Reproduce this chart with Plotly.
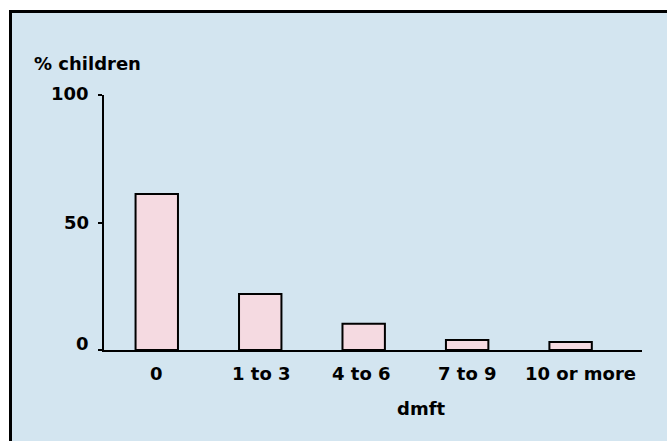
import plotly.graph_objects as go

categories = ["0", "1 to 3", "4 to 6", "7 to 9", "10 or more"]
values = [61.2, 22.0, 10.3, 3.9, 3.1]
y_ticks = [0, 50, 100]
y_tick_labels = ["0", "50", "100"]

W, H = 667, 441
L, R, T, B = 104, 25, 95, 91
pw, ph = W - L - R, H - T - B

def px(x):
    return (x - L) / pw

def py(y):
    return (H - B - y) / ph

FONT = "DejaVu Sans"
TF = dict(family=FONT, size=18, color="black", weight="bold")

fig = go.Figure()
fig.add_trace(go.Bar(
    x=list(range(len(categories))), y=values,
    width=0.41,
    marker=dict(color="#F5DAE1", line=dict(color="black", width=2)),
))

annotations = [
    dict(text="% children", xref="paper", yref="paper", x=px(32), y=py(63),
         xanchor="left", yanchor="middle", showarrow=False, font=TF),
    dict(text="dmft", xref="paper", yref="paper", x=px(421), y=py(408),
         xanchor="center", yanchor="middle", showarrow=False, font=TF),
]
# category labels (last one sits slightly right of its bar in the original)
x_shifts = [0, 1, -2, 0, 10]
for i, (c, s) in enumerate(zip(categories, x_shifts)):
    annotations.append(dict(text=c, xref="x", yref="paper", x=i, y=py(373),
                            xanchor="center", yanchor="middle", xshift=s,
                            showarrow=False, font=TF))
# value-axis labels
y_shifts = [7, 0, 2]
for v, t, s in zip(y_ticks, y_tick_labels, y_shifts):
    annotations.append(dict(text=t, xref="paper", yref="y", x=px(91), y=v,
                            xanchor="right", yanchor="middle", yshift=s,
                            showarrow=False, font=TF))

fig.update_layout(
    width=W, height=H,
    margin=dict(l=L, r=R, t=T, b=B, pad=0),
    paper_bgcolor="white",
    plot_bgcolor="rgba(0,0,0,0)",
    showlegend=False,
    font=TF,
    xaxis=dict(
        range=[-0.51, 4.69], tickvals=list(range(len(categories))),
        showticklabels=False,
        showline=True, linecolor="black", linewidth=2, ticks="", showgrid=False,
        zeroline=False, fixedrange=True,
    ),
    yaxis=dict(
        range=[0, 100], tickvals=y_ticks, showticklabels=False,
        showline=True, linecolor="black", linewidth=2, ticks="outside",
        ticklen=4, tickwidth=2, tickcolor="black", showgrid=False, zeroline=False,
        fixedrange=True,
    ),
    shapes=[dict(
        type="rect", xref="paper", yref="paper", layer="below",
        x0=px(10.5), x1=px(690), y0=py(470), y1=py(11.5),
        fillcolor="#D3E5F0", line=dict(color="black", width=3),
    )],
    annotations=annotations,
)

fig.write_html(
    "out.html",
    config={"displayModeBar": False},
    post_script="document.body.style.margin='0';document.body.style.overflow='hidden';",
)
